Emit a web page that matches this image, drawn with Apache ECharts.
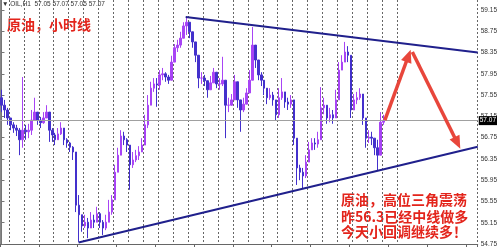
<!DOCTYPE html>
<html><head><meta charset="utf-8">
<script src="https://cdn.jsdelivr.net/npm/echarts@6/dist/echarts.min.js"></script>
<style>html,body{margin:0;padding:0;background:#fff}#c{width:500px;height:249px}</style>
</head><body><div id="c"></div>
<script>
const closeP=[57.36,57.27,57.12,56.99,56.93,56.89,56.71,56.89,56.86,56.89,
 57.08,57.23,57.08,57.03,57.12,57.23,56.89,56.80,56.71,56.82,
 56.93,56.71,56.65,56.57,56.48,55.48,55.30,55.09,55.16,55.05,
 55.20,55.16,55.32,55.16,55.05,55.16,55.35,55.58,56.10,56.42,
 56.78,56.71,56.61,56.24,56.33,56.41,56.48,56.61,56.99,57.36,
 57.68,57.76,57.74,57.93,57.95,57.89,57.83,58.17,58.44,58.49,
 58.62,58.85,58.92,58.74,58.55,58.30,57.87,57.87,57.82,57.65,
 57.78,57.98,57.76,57.76,57.83,57.36,57.36,57.46,57.80,57.46,
 57.27,57.38,57.59,57.83,58.49,58.21,57.93,57.83,57.68,57.50,
 57.55,57.46,57.18,57.50,57.61,57.42,57.38,57.46,56.74,56.18,
 56.10,56.03,56.29,56.52,56.65,56.63,56.71,57.31,57.36,57.12,
 57.18,57.12,57.46,58.02,58.17,58.36,58.30,57.27,57.46,57.50,
 57.57,57.12,56.74,56.76,56.74,56.56,56.42,57.04,57.07];
const highP=[57.65,57.46,57.31,57.12,57.04,56.99,56.93,57.89,56.99,57.01,
 57.27,57.50,57.23,57.14,57.23,57.36,57.23,56.93,56.84,56.93,
 57.04,56.93,56.74,56.67,56.59,56.42,55.67,55.30,55.30,55.24,
 55.35,55.30,55.45,55.35,55.20,55.30,55.58,55.67,56.24,56.56,
 56.89,56.86,56.74,56.61,56.48,56.52,56.59,56.74,57.18,57.55,
 57.80,57.87,57.87,58.02,58.06,57.98,57.93,58.29,58.51,58.59,
 58.74,58.92,59.02,58.85,58.70,58.55,58.21,57.98,57.93,57.80,
 57.91,58.06,57.98,57.87,58.27,57.83,57.50,57.57,57.93,57.80,
 57.46,57.50,57.68,58.02,58.83,58.49,58.21,57.98,57.83,57.68,
 57.68,57.61,57.46,57.68,57.87,57.61,57.50,57.55,57.46,56.71,
 56.24,56.18,56.42,56.67,56.74,56.74,56.86,57.70,57.50,57.36,
 57.31,57.27,57.65,58.17,58.30,58.55,58.47,58.30,57.57,57.61,
 57.68,57.57,57.12,56.89,56.86,56.74,56.71,57.23,57.18];
const lowP=[57.23,57.12,56.99,56.89,56.84,56.78,56.42,56.56,56.71,56.74,
 56.80,57.08,56.99,56.93,57.01,57.12,56.67,56.67,56.61,56.71,
 56.80,56.61,56.56,56.48,56.33,55.35,54.79,54.98,55.05,54.86,
 55.05,55.05,55.16,55.05,54.92,55.01,55.16,55.30,55.58,56.14,
 56.52,56.61,56.48,55.77,56.18,56.29,56.33,56.48,56.61,56.93,
 57.46,57.61,57.33,57.65,57.83,57.80,57.76,57.83,58.21,58.36,
 58.44,58.62,58.68,58.62,58.44,58.17,57.68,57.76,57.72,57.50,
 57.65,57.83,57.68,57.65,57.72,56.74,57.23,57.35,57.46,57.31,
 56.86,57.23,57.38,57.61,57.83,58.06,57.83,57.72,57.55,57.38,
 57.46,57.35,57.08,57.12,57.46,57.31,57.27,57.31,56.61,55.86,
 55.95,55.80,55.99,56.33,56.56,56.52,56.56,56.71,57.19,57.01,
 57.04,57.01,57.12,57.65,58.02,58.21,58.17,57.12,57.31,57.38,
 57.46,56.99,56.56,56.65,56.61,56.42,56.14,56.52,56.99];
const firstOpen=57.50;
const yTickLabels=['54.75','55.15','55.55','55.95','56.35','56.75','57.15','57.55','57.95','58.35','58.75','59.15'];
const lastPrice=57.07;
const upperTrend=[[61.7,59.02],[159.5,58.35]];
const lowerTrend=[[25.8,54.78],[159.5,56.58]];
const arrowUp=[[128.4,57.08],[136.3,58.29]];
const arrowDown=[[137.6,58.36],[152.7,56.65]];
const slotCount=160;
const categories=[];
for(let i=0;i<slotCount;i++) categories.push('b'+i);

const ohlc=closeP.map((c,i)=>{
  const o=i===0?firstOpen:closeP[i-1];
  return [o,c,Math.min(lowP[i],o,c),Math.max(highP[i],o,c)];
});

const chart=echarts.init(document.getElementById('c'),null,{renderer:'canvas'});
const red='#e3241b';
const navy='#20208c';
chart.setOption({
  animation:false,
  grid:{left:0,right:19,top:0,bottom:5},
  xAxis:[
    {type:'category',data:categories,boundaryGap:true,
     axisLine:{show:true,lineStyle:{color:'#666'}},
     axisTick:{show:true,interval:12,length:3,lineStyle:{color:'#666'}},
     axisLabel:{show:false},
     splitLine:{show:true,interval:(i)=>i%5===3&&i<=133,lineStyle:{type:[2,2],color:'#666',width:1}}},
    {type:'value',min:-0.5,max:slotCount-0.5,show:false}
  ],
  yAxis:[
    {type:'value',position:'right',min:54.75,max:59.338,interval:0.4,
     axisLine:{show:true,lineStyle:{color:'#777'}},
     axisTick:{show:true,length:3,lineStyle:{color:'#777'}},
     splitLine:{show:false},
     axisLabel:{fontSize:6.5,color:'#333',margin:3,showMaxLabel:false,fontFamily:'Liberation Sans',
       formatter:(v)=>{const s=v.toFixed(2);return yTickLabels.indexOf(s)>=0?s:'';}}},
    {type:'value',position:'left',min:54.75,max:59.338,
     axisLine:{show:true,lineStyle:{color:'#888'}},
     axisTick:{show:false},axisLabel:{show:false},splitLine:{show:false}}
  ],
  series:[
    {type:'candlestick',xAxisIndex:0,yAxisIndex:0,data:ohlc,barWidth:2,
     itemStyle:{color:'#a844f5',color0:'#4330cc',borderColor:'#a844f5',borderColor0:'#4330cc',borderWidth:1},
     markLine:{silent:true,symbol:'none',animation:false,
       data:[{yAxis:lastPrice}],
       lineStyle:{color:'#a0a0a0',type:'solid',width:1},
       label:{position:'end',formatter:lastPrice.toFixed(2),backgroundColor:'#000',color:'#fff',
         fontSize:6.5,padding:[1,1],distance:1,fontFamily:'Liberation Sans'}}},
    {type:'line',xAxisIndex:1,yAxisIndex:0,data:upperTrend,symbol:'none',silent:true,
     lineStyle:{color:navy,width:2},
     markLine:{silent:true,animation:false,symbol:['none','triangle'],symbolSize:[11,13],
       lineStyle:{color:'#e8463b',width:3.5,type:'solid'},label:{show:false},
       data:[[{coord:arrowUp[0]},{coord:arrowUp[1]}],[{coord:arrowDown[0]},{coord:arrowDown[1]}]]}},
    {type:'line',xAxisIndex:1,yAxisIndex:0,data:lowerTrend,symbol:'none',silent:true,
     lineStyle:{color:navy,width:2}}
  ],
  graphic:[
    {type:'text',left:2,top:1,style:{text:'\u25BC OIL,H1  57.05 57.07 57.05 57.07',fontSize:6.5,fill:'#333',fontFamily:'Liberation Sans'}},
    {type:'text',x:7,y:24.5,style:{text:'原油，小时线',fontSize:14,fontWeight:'bold',fill:red,fontFamily:'Noto Sans CJK SC',verticalAlign:'middle'}},
    {type:'text',x:341,y:200,style:{text:'原油，高位三角震荡',fontSize:14,fontWeight:'bold',fill:red,fontFamily:'Noto Sans CJK SC',verticalAlign:'middle'}},
    {type:'text',x:341,y:216.5,style:{text:'昨56.3已经中线做多',fontSize:14,fontWeight:'bold',fill:red,fontFamily:'Noto Sans CJK SC',verticalAlign:'middle'}},
    {type:'text',x:341,y:232,style:{text:'今天小回调继续多！',fontSize:14,fontWeight:'bold',fill:red,fontFamily:'Noto Sans CJK SC',verticalAlign:'middle'}}
  ]
});
</script></body></html>
